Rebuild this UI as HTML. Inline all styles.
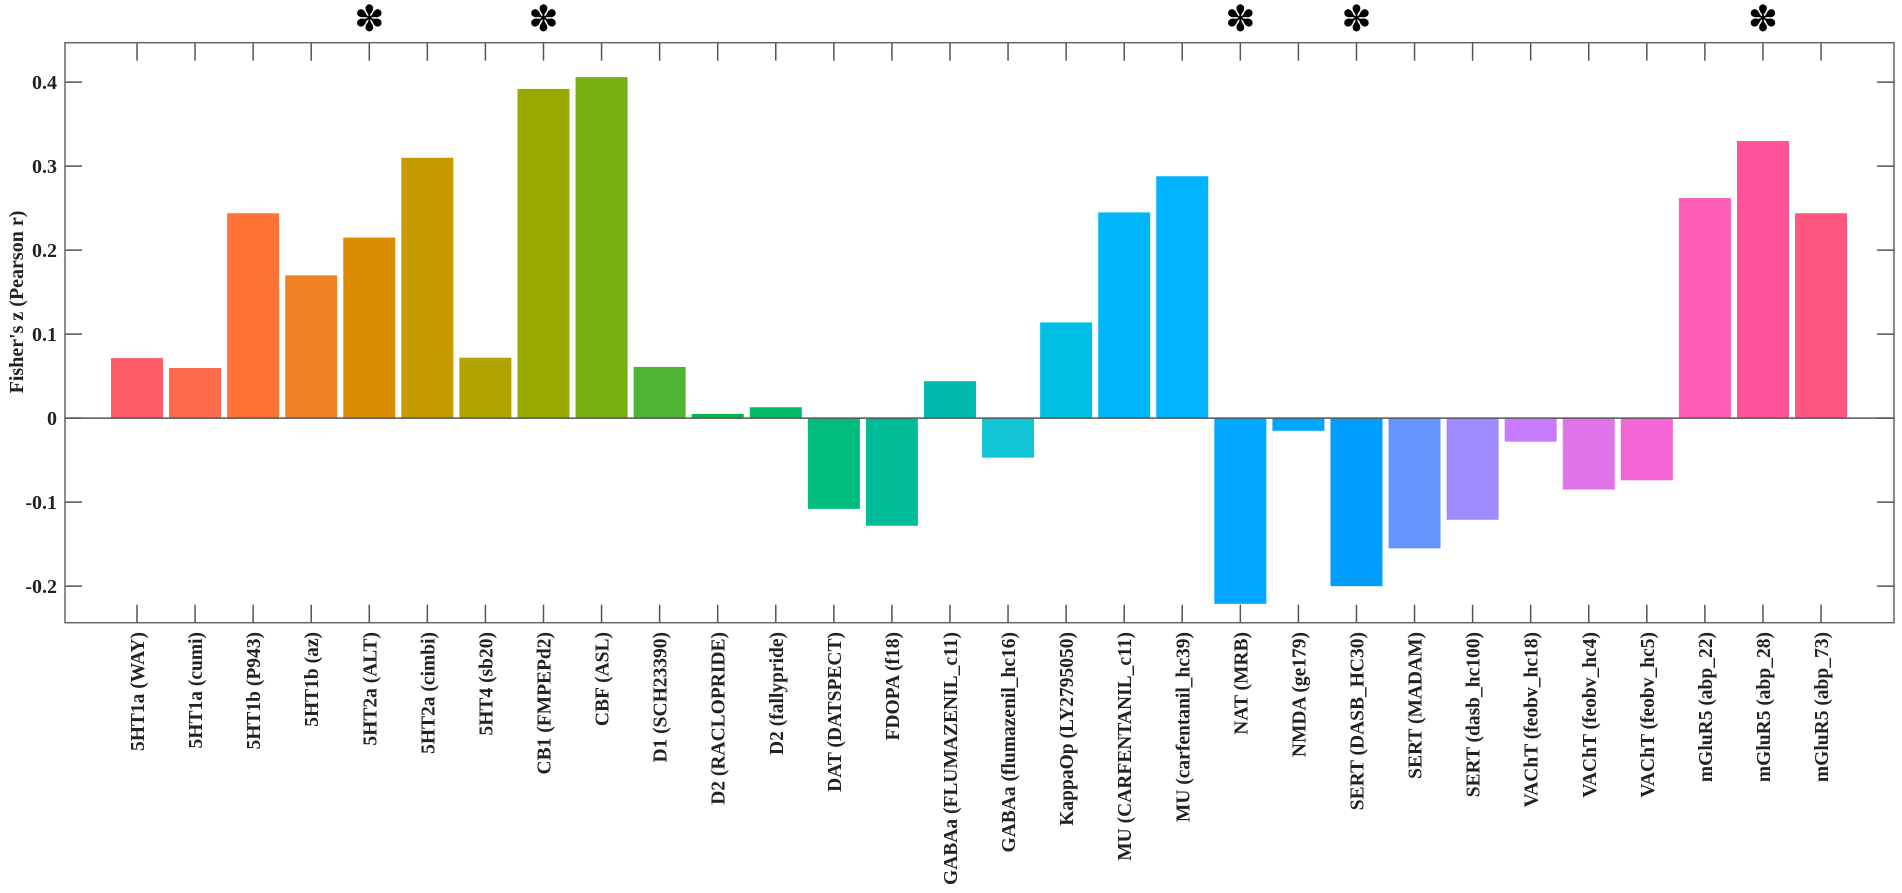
<!DOCTYPE html>
<html><head><meta charset="utf-8"><style>body{margin:0;background:#fff}svg{display:block}</style></head>
<body>
<svg id="chart" width="1902" height="893" xmlns="http://www.w3.org/2000/svg" font-family="'Liberation Serif', serif" font-weight="bold"></svg>
<script>
const categories=["5HT1a (WAY)","5HT1a (cumi)","5HT1b (P943)","5HT1b (az)","5HT2a (ALT)","5HT2a (cimbi)","5HT4 (sb20)","CB1 (FMPEPd2)","CBF (ASL)","D1 (SCH23390)","D2 (RACLOPRIDE)","D2 (fallypride)","DAT (DATSPECT)","FDOPA (f18)","GABAa (FLUMAZENIL_c11)","GABAa (flumazenil_hc16)","KappaOp (LY2795050)","MU (CARFENTANIL_c11)","MU (carfentanil_hc39)","NAT (MRB)","NMDA (ge179)","SERT (DASB_HC30)","SERT (MADAM)","SERT (dasb_hc100)","VAChT (feobv_hc18)","VAChT (feobv_hc4)","VAChT (feobv_hc5)","mGluR5 (abp_22)","mGluR5 (abp_28)","mGluR5 (abp_73)"];
const values=[0.0715,0.0597,0.244,0.170,0.215,0.310,0.072,0.392,0.406,0.061,0.005,0.013,-0.108,-0.128,0.044,-0.047,0.114,0.245,0.288,-0.221,-0.015,-0.200,-0.155,-0.121,-0.028,-0.085,-0.074,0.262,0.330,0.244];
const significant=[4,7,19,21,28];
const yTicks=[-0.2,-0.1,0,0.1,0.2,0.3,0.4];
const yTickLabels=["-0.2","-0.1","0","0.1","0.2","0.3","0.4"];
const colors=["#FF5C68","#FD6A4D","#FF7337","#EF8224","#DB8B00","#C79A00","#B2A300","#98AA00","#78AF12","#4FB432","#00B84C","#00BB67","#00BC7F","#00BC96","#00BAAD","#10C4D4","#00BFE5","#00B6FA","#00B3FF","#00A9FF","#00A6FF","#009FFF","#6694FF","#A08AFF","#C77CFF","#E072EA","#F465D5","#FF5CB8","#FF529A","#FF5680"];

const NS="http://www.w3.org/2000/svg";
const svg=document.getElementById('chart');
const L=65,R=1894,T=42.7,B=622.7;
const yMin=-0.2435,yMax=0.447;
const y=v=>B-(v-yMin)/(yMax-yMin)*(B-T);
const x=i=>137+i*58.07;
const bw=52;
function mk(tag,attrs,parent){const e=document.createElementNS(NS,tag);for(const k in attrs)e.setAttribute(k,attrs[k]);(parent||svg).appendChild(e);return e;}

const bars=mk('g',{});


values.forEach((v,i)=>{
  const r=mk('rect',{x:x(i)-bw/2,y:Math.min(y(v),y(0)),width:bw,height:Math.abs(y(v)-y(0)),fill:colors[i]},bars);
  
  
});
const zl=mk('line',{x1:L,x2:R,y1:y(0),y2:y(0),stroke:'#555','stroke-width':1.5});


const box=mk('rect',{x:L,y:T,width:R-L,height:B-T,fill:'none',stroke:'#666','stroke-width':1.5});



yTicks.forEach((t,i)=>{
  mk('line',{x1:L,x2:L+17,y1:y(t),y2:y(t),stroke:'#555','stroke-width':1.5});
  mk('line',{x1:R-17,x2:R,y1:y(t),y2:y(t),stroke:'#555','stroke-width':1.5});
  const tx=mk('text',{x:57,y:y(t)+7,'text-anchor':'end','font-size':20,fill:'#222'});
  tx.textContent=yTickLabels[i];
  
  
});
const yt=mk('text',{x:0,y:0,transform:'translate(23,302) rotate(-90)','text-anchor':'middle','font-size':20,fill:'#222'});
yt.textContent="Fisher's z (Pearson r)";



categories.forEach((c,i)=>{
  mk('line',{x1:x(i),x2:x(i),y1:T,y2:T+18,stroke:'#555','stroke-width':1.5});
  mk('line',{x1:x(i),x2:x(i),y1:B-18,y2:B,stroke:'#555','stroke-width':1.5});
  const tx=mk('text',{x:0,y:0,transform:`translate(${x(i)+7},632) rotate(-90)`,'text-anchor':'end','font-size':19.5,fill:'#222'});
  tx.textContent=c;
  
  
});
significant.forEach(i=>{
  const s=mk('text',{x:x(i),y:31,'text-anchor':'middle','font-size':36,fill:'#000','font-family':"'DejaVu Sans', sans-serif"});
  s.textContent='✽';
  
  
});
</script>
</body></html>
